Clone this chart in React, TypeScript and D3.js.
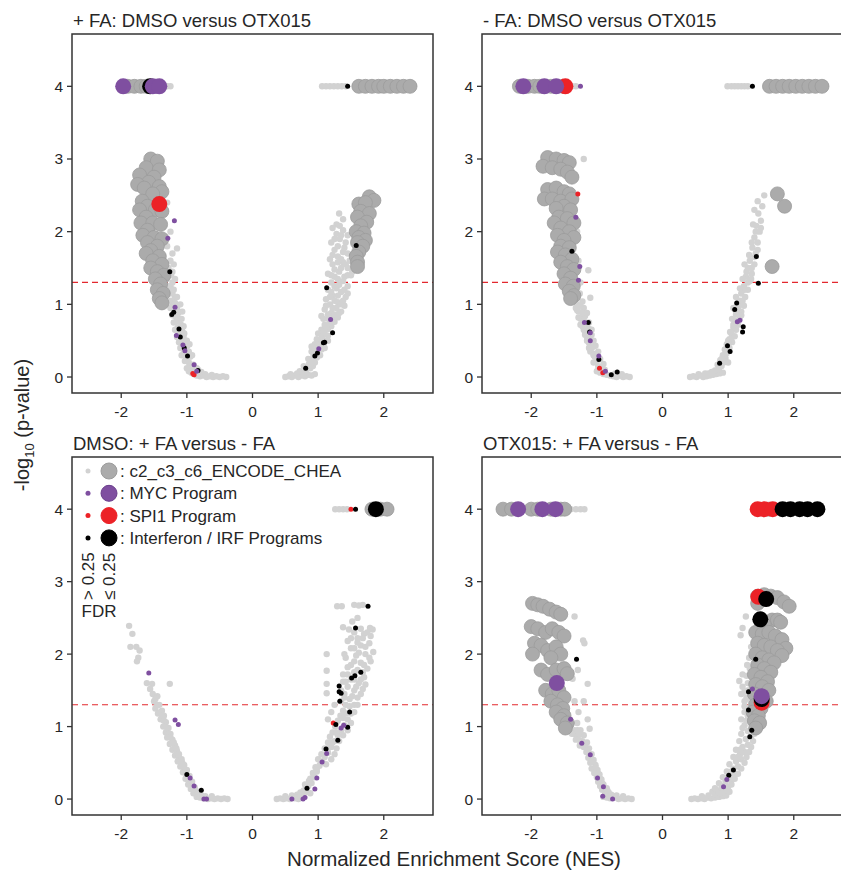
import React from "react";
import * as d3 from "d3";

type P = [number, number][];

// ---------- Panel A: + FA: DMSO versus OTX015 ----------
const aGreyS: P = [
  [-0.4,0],[-0.45,0.01],[-0.5,0],[-0.55,0.01],[-0.6,0],[-0.65,0.01],[-0.7,0],[-0.75,0.02],[-0.8,0.01],[-0.85,0.02],[-0.9,0.04],[-0.62,0.03],[-0.72,0.04],[-0.82,0.05],
  [-0.88,0.08],[-0.92,0.1],[-0.85,0.12],[-0.95,0.14],[-0.9,0.17],[-0.97,0.2],[-0.78,0.07],[-0.83,0.1],
  [-1.0,0.25],[-0.95,0.28],[-1.02,0.32],[-0.97,0.35],[-1.05,0.38],[-1.0,0.42],[-1.07,0.45],[-1.02,0.48],[-0.92,0.3],[-0.96,0.45],
  [-1.1,0.52],[-1.05,0.55],[-1.12,0.6],[-1.07,0.63],[-1.14,0.68],[-1.09,0.72],[-1.16,0.76],[-1.11,0.8],[-1.18,0.84],[-1.13,0.88],[-1.2,0.92],[-1.15,0.96],[-1.05,0.7],[-1.07,0.9],[-1.22,1.0],
  [-1.24,1.05],[-1.18,1.1],[-1.27,1.15],[-1.2,1.2],[-1.28,1.25],[-1.22,1.3],[-1.3,1.35],[-1.24,1.4],[-1.28,1.5],[-1.2,1.55],[-1.25,1.6],[-1.22,1.7],[-1.15,1.77],[-1.3,1.8],[-1.25,2.0],[-1.3,2.4],[-1.4,2.95],
  [-1.35,4],[-1.3,4],[-1.25,4],
  [0.5,0],[0.55,0.01],[0.6,0],[0.65,0.02],[0.7,0],[0.75,0.02],[0.8,0.01],[0.85,0.03],[0.9,0.02],[0.95,0.04],[0.58,0.04],[0.68,0.05],[0.78,0.06],
  [0.82,0.1],[0.88,0.12],[0.92,0.15],[0.86,0.18],[0.95,0.2],[0.9,0.24],[0.98,0.27],[0.93,0.3],
  [1.0,0.33],[0.96,0.37],[1.05,0.38],[1.0,0.42],[1.08,0.45],[1.02,0.5],[1.12,0.5],[1.06,0.55],[1.15,0.57],[1.1,0.6],
  [1.05,0.65],[1.15,0.66],[1.2,0.7],[1.1,0.72],[1.25,0.76],[1.15,0.8],[1.3,0.82],[1.05,0.84],[1.2,0.88],[1.35,0.9],[1.1,0.93],[1.28,0.95],[1.4,0.98],[1.18,1.0],
  [1.3,1.03],[1.12,1.07],[1.42,1.1],[1.22,1.12],[1.35,1.17],[1.15,1.2],[1.28,1.22],[1.45,1.25],[1.2,1.3],[1.38,1.32],[1.25,1.38],[1.5,1.4],[1.15,1.42],[1.32,1.45],[1.45,1.5],
  [1.22,1.55],[1.38,1.58],[1.18,1.62],[1.3,1.66],[1.45,1.7],[1.25,1.75],[1.4,1.78],[1.2,1.85],[1.33,1.9],[1.28,1.97],[1.38,2.02],[1.28,2.1],[1.38,2.17],[1.32,2.25],
  [1.06,4],[1.12,4],[1.18,4],[1.24,4],[1.3,4],[1.36,4],[1.42,4],
];
const aGreyFill: P = [
  [-1.0,0.12],[-0.93,0.06],[-0.97,0.08],[-1.03,0.22],[-1.08,0.3],[-1.1,0.4],[-1.12,0.48],[-1.15,0.55],[-1.18,0.65],[-1.2,0.75],[-1.22,0.85],[-1.25,0.95],[-1.0,0.5],[-1.04,0.6],[-1.08,0.8],[-1.12,0.9],[-1.18,1.02],[-1.1,1.0],[-1.15,1.1],[-1.22,1.15],[-1.25,1.25],[-1.18,1.35],[-1.22,1.45],[-1.27,1.45],[-1.23,1.2],
  [1.0,0.6],[1.08,0.62],[1.12,0.7],[1.18,0.74],[1.22,0.8],[1.08,0.8],[1.15,0.86],[1.25,0.86],[1.32,0.88],[1.12,0.98],[1.22,0.95],[1.34,1.0],[1.25,1.05],[1.38,1.05],[1.18,1.1],[1.3,1.12],[1.45,1.15],[1.2,1.17],[1.4,1.2],[1.32,1.27],[1.25,1.25],[1.4,1.38],[1.3,1.35],[1.45,1.4],[1.2,1.4],[1.35,1.5],[1.25,1.48],[1.42,1.55],[1.3,1.58],[1.35,1.62],[1.22,1.68],[1.38,1.72],[1.3,1.8],[1.42,1.85],[1.25,1.9],[1.35,1.95],[1.22,2.05],[1.33,2.08],[1.45,1.95],[1.48,1.6],[1.52,1.45],[0.9,0.35],[0.95,0.45],[1.05,0.48],[0.98,0.52],[0.9,0.42],[0.85,0.25],[0.78,0.15],[0.72,0.08],[1.03,0.3],[1.1,0.4],[1.15,0.5],
];
const aGreyL: P = [
  [-1.55,3.0],[-1.45,2.97],[-1.62,2.88],[-1.42,2.85],[-1.72,2.78],[-1.5,2.75],[-1.58,2.68],[-1.75,2.65],[-1.65,2.6],[-1.42,2.62],[-1.38,2.55],[-1.52,2.52],[-1.68,2.42],[-1.6,2.35],[-1.72,2.3],[-1.48,2.3],[-1.38,2.28],[-1.62,2.2],[-1.7,2.12],[-1.52,2.12],[-1.4,2.1],[-1.6,2.02],[-1.67,1.95],[-1.5,1.92],[-1.38,1.9],[-1.6,1.85],[-1.45,1.8],[-1.55,1.74],[-1.62,1.7],[-1.42,1.66],[-1.52,1.6],[-1.38,1.55],[-1.55,1.5],[-1.45,1.45],[-1.35,1.4],[-1.48,1.35],[-1.4,1.28],[-1.45,1.2],[-1.36,1.15],[-1.42,1.08],[-1.38,1.02],
  [-1.9,4],[-1.8,4],[-1.7,4],[-1.62,4],[-1.55,4],[-1.45,4],
  [1.78,2.48],[1.85,2.43],[1.62,2.38],[1.72,2.4],[1.65,2.28],[1.78,2.25],[1.6,2.2],[1.74,2.13],[1.65,2.08],[1.58,2.0],[1.7,1.98],[1.62,1.92],[1.72,1.88],[1.6,1.85],[1.68,1.8],[1.62,1.72],[1.58,1.66],[1.6,1.58],[1.6,1.52],
  [1.62,4],[1.72,4],[1.82,4],[1.92,4],[2.0,4],[2.1,4],[2.2,4],[2.3,4],[2.4,4],
];
const aPurS: P = [[-1.19,2.15],[-1.29,1.91],[-1.18,0.96],[-1.16,0.57],[-1.06,0.44],[-1.03,0.36],[-0.89,0.17],[-0.85,0.08],[1.19,0.79],[1.01,0.39]];
const aPurL: P = [[-1.97,4],[-1.52,4],[-1.42,4]];
const aRedS: P = [[-0.91,0.05],[-0.89,0.03]];
const aRedL: P = [[-1.42,2.38]];
const aBlkS: P = [[-1.26,1.45],[-1.2,0.89],[-1.23,0.86],[-1.12,0.66],[-1.1,0.55],[-1.04,0.4],[-0.99,0.29],[-0.83,0.09],[1.58,1.81],[1.13,1.23],[1.22,0.61],[1.08,0.47],[1.1,0.48],[0.99,0.33],[0.95,0.29],[0.81,0.12],[1.45,4]];
const aBlkL: P = [[-1.56,4]];

// ---------- Panel B: - FA: DMSO versus OTX015 ----------
const bGreyS: P = [
  [-0.5,0],[-0.55,0.01],[-0.6,0],[-0.65,0.02],[-0.7,0],[-0.75,0.01],[-0.8,0.02],[-0.85,0.03],[-0.9,0.04],[-0.62,0.04],[-0.72,0.05],[-0.95,0.06],
  [-0.88,0.1],[-0.93,0.12],[-0.98,0.15],[-0.9,0.18],[-1.0,0.22],[-0.95,0.25],[-1.03,0.28],
  [-1.05,0.32],[-0.98,0.35],[-1.08,0.4],[-1.02,0.43],[-1.12,0.47],[-1.05,0.5],[-1.15,0.55],[-1.08,0.58],
  [-1.18,0.62],[-1.12,0.66],[-1.22,0.7],[-1.15,0.73],[-1.25,0.8],[-1.18,0.84],[-1.28,0.9],[-1.2,0.95],[-1.3,1.0],[-1.22,1.04],[-1.1,1.09],[-1.33,1.08],
  [-1.26,1.15],[-1.2,3.0],[-1.13,1.47],[-1.25,1.3],[-1.28,1.6],[-1.3,2.0],
  [-1.38,4],[-1.32,4],
  [0.42,0],[0.47,0.01],[0.52,0],[0.57,0.02],[0.62,0],[0.67,0.01],[0.72,0.02],[0.77,0.03],[0.82,0.04],[0.87,0.05],[0.92,0.06],[0.55,0.04],[0.65,0.05],
  [0.8,0.09],[0.86,0.12],[0.9,0.15],[0.84,0.17],[0.93,0.2],[0.88,0.23],[0.96,0.26],[0.92,0.3],
  [0.98,0.33],[0.95,0.38],[1.02,0.4],[0.98,0.45],[1.06,0.48],[1.02,0.52],[1.1,0.56],[1.05,0.6],[1.12,0.65],[1.08,0.68],
  [1.15,0.72],[1.1,0.78],[1.18,0.82],[1.12,0.86],[1.2,0.9],[1.15,0.95],[1.24,0.98],[1.18,1.05],[1.26,1.1],[1.2,1.15],
  [1.3,1.2],[1.24,1.25],[1.33,1.32],[1.27,1.38],[1.36,1.42],[1.3,1.5],[1.4,1.55],[1.33,1.6],[1.42,1.7],[1.37,1.78],[1.45,1.85],[1.4,1.92],[1.48,2.0],[1.43,2.08],[1.5,2.15],[1.46,2.25],[1.52,2.35],[1.45,2.42],[1.55,2.5],
  [0.99,4],[1.05,4],[1.1,4],[1.15,4],[1.2,4],[1.25,4],[1.3,4],
];
const bGreyFill: P = [
  [-1.0,0.08],[-0.98,0.1],[-1.05,0.2],[-1.0,0.28],[-1.1,0.35],[-1.05,0.42],[-1.12,0.4],[-1.15,0.5],[-1.1,0.52],[-1.18,0.58],[-1.2,0.65],[-1.25,0.72],[-1.2,0.78],[-1.28,0.82],[-1.22,0.88],[-1.3,0.92],[-1.25,0.98],[-1.32,0.95],[-1.15,0.88],[-1.12,0.75],[-1.08,0.65],[-1.05,0.3],
  [1.0,0.5],[1.06,0.55],[1.03,0.62],[1.08,0.72],[1.14,0.75],[1.06,0.8],[1.12,0.9],[1.2,0.85],[1.08,0.95],[1.16,1.0],[1.22,1.05],[1.12,1.1],[1.25,1.2],[1.18,1.22],[1.3,1.3],[1.22,1.35],[1.35,1.35],[1.28,1.45],[1.36,1.5],[1.25,1.55],[1.32,1.68],[1.4,1.65],[1.36,1.85],[1.45,1.75],[1.42,2.0],[1.38,2.1],[1.5,2.05],[1.4,2.3],[0.95,0.3],[0.98,0.4],[0.9,0.25],[0.85,0.1],[0.75,0.07],[0.7,0.05],[1.0,0.2],
];
const bGreyL: P = [
  [-1.75,3.02],[-1.62,3.0],[-1.5,2.98],[-1.42,2.95],[-1.82,2.9],[-1.68,2.88],[-1.55,2.86],[-1.45,2.82],[-1.38,2.75],[-1.75,2.58],[-1.62,2.6],[-1.5,2.55],[-1.42,2.52],[-1.8,2.45],[-1.68,2.45],[-1.55,2.42],[-1.38,2.45],[-1.5,2.35],[-1.62,2.32],[-1.4,2.3],[-1.58,2.2],[-1.45,2.18],[-1.65,2.12],[-1.35,2.12],[-1.55,2.05],[-1.42,2.0],[-1.6,1.95],[-1.35,1.92],[-1.5,1.88],[-1.55,1.8],[-1.42,1.78],[-1.6,1.72],[-1.48,1.68],[-1.38,1.62],[-1.55,1.58],[-1.45,1.52],[-1.35,1.48],[-1.5,1.42],[-1.4,1.36],[-1.48,1.28],[-1.36,1.25],[-1.42,1.18],[-1.35,1.12],[-1.4,1.08],
  [-2.18,4],[-2.05,4],[-1.95,4],[-1.87,4],[-1.7,4],[-1.52,4],
  [1.75,2.52],[1.86,2.35],[1.67,1.52],
  [1.63,4],[1.73,4],[1.83,4],[1.93,4],[2.03,4],[2.13,4],[2.23,4],[2.33,4],[2.43,4],
];
const bPurS: P = [[-1.32,2.2],[-1.26,1.52],[-1.28,1.33],[-1.19,0.75],[-1.1,0.61],[-1.1,0.5],[-0.97,0.29],[-0.87,0.08],[-1.25,4],[1.14,0.76],[1.18,0.78]];
const bPurL: P = [[-2.12,4],[-1.8,4],[-1.62,4]];
const bRedS: P = [[-1.29,2.52],[-0.96,0.12],[-0.91,0.06]];
const bRedL: P = [[-1.48,4]];
const bBlkS: P = [[-1.38,1.73],[-1.13,0.75],[-1.11,0.62],[-0.97,0.24],[-0.78,0.03],[-0.69,0.07],[1.43,1.66],[1.46,1.29],[1.13,1.02],[1.1,0.93],[1.23,0.69],[1.22,0.62],[0.99,0.43],[1.03,0.35],[0.87,0.19],[1.37,4]];
const bBlkL: P = [];

// ---------- Panel C: DMSO: + FA versus - FA ----------
const cGreyS: P = [
  [-1.88,2.39],[-1.83,2.28],[-1.86,2.1],[-1.77,2.1],[-1.72,2.05],[-1.74,1.95],[-1.76,1.9],
  [-1.61,1.6],[-1.53,1.59],[-1.56,1.52],[-1.26,1.59],
  [-1.52,1.45],[-1.45,1.42],[-1.5,1.35],[-1.42,1.3],[-1.48,1.25],[-1.38,1.22],[-1.44,1.18],[-1.35,1.15],
  [-1.4,1.1],[-1.32,1.06],[-1.36,1.0],[-1.28,0.98],[-1.32,0.92],[-1.25,0.9],[-1.3,0.85],[-1.22,0.82],[-1.26,0.76],[-1.18,0.74],[-1.22,0.68],[-1.15,0.66],[-1.18,0.6],[-1.12,0.57],[-1.14,0.52],[-1.07,0.5],[-1.1,0.45],[-1.04,0.42],[-1.06,0.37],[-1.0,0.33],[-1.02,0.28],[-0.96,0.25],[-0.98,0.2],[-0.92,0.18],[-0.94,0.14],[-0.88,0.12],[-0.9,0.08],[-0.84,0.07],[-0.85,0.03],[-0.8,0.02],[-0.75,0.01],[-0.68,0],[-0.63,0.01],[-0.58,0],[-0.53,0.01],[-0.48,0],[-0.43,0.01],[-0.38,0],[-0.72,0.04],[-0.62,0.04],
  [0.37,0],[0.42,0.01],[0.47,0],[0.52,0.01],[0.57,0],[0.65,0.01],[0.7,0],[0.75,0.02],[0.5,0.04],[0.6,0.05],[0.68,0.06],
  [0.73,0.09],[0.78,0.12],[0.82,0.1],[0.85,0.18],[0.8,0.2],[0.9,0.22],[0.88,0.28],[0.94,0.3],[0.92,0.36],[0.98,0.38],[0.96,0.44],[1.02,0.46],[1.06,0.52],[1.0,0.55],[1.1,0.58],[1.05,0.62],[1.15,0.64],[1.1,0.7],[1.2,0.72],[1.15,0.78],[1.25,0.8],[1.18,0.86],[1.3,0.88],[1.22,0.92],[1.35,0.95],[1.26,1.0],[1.4,1.02],[1.3,1.08],[1.45,1.1],[1.34,1.15],[1.5,1.18],[1.38,1.22],[1.42,1.3],[1.55,1.3],[1.35,1.35],[1.48,1.38],[1.6,1.4],[1.4,1.45],[1.55,1.5],[1.68,1.52],[1.45,1.55],[1.62,1.6],[1.38,1.62],[1.5,1.65],[1.7,1.68],[1.45,1.72],[1.6,1.78],[1.75,1.8],[1.5,1.85],[1.65,1.88],[1.8,1.9],[1.42,1.95],[1.58,1.98],[1.72,2.0],[1.84,2.03],[1.5,2.08],[1.65,2.12],[1.78,2.15],[1.45,2.18],[1.6,2.22],[1.7,2.28],[1.38,2.37],[1.47,2.34],[1.79,2.36],[1.83,2.34],[1.29,2.66],[1.36,2.66],[1.55,2.68],[1.62,2.67],[1.68,2.68],[1.13,2.0],[1.13,1.77],[1.13,1.59],[1.13,1.46],[1.25,1.3],[1.2,1.2],[1.15,1.1],
  [1.26,4],[1.32,4],[1.38,4],[1.44,4],
];
const cGreyFill: P = [
  [-1.48,1.38],[-1.4,1.2],[-1.35,1.08],[-1.3,0.98],[-1.25,0.85],[-1.2,0.78],[-1.16,0.7],[-1.12,0.62],[-1.08,0.55],[-1.04,0.47],[-1.0,0.4],[-0.96,0.32],[-0.92,0.24],[-0.88,0.16],[-0.82,0.1],[-0.78,0.05],[-1.45,1.3],[-1.38,1.15],
  [1.04,0.5],[1.12,0.48],[1.2,0.55],[1.25,0.62],[1.15,0.7],[1.28,0.7],[1.22,0.78],[1.32,0.8],[1.38,0.88],[1.28,0.92],[1.45,0.95],[1.38,1.12],[1.5,1.05],[1.42,1.18],[1.55,1.2],[1.48,1.28],[1.6,1.3],[1.4,1.4],[1.52,1.42],[1.65,1.45],[1.35,1.5],[1.58,1.55],[1.72,1.58],[1.42,1.62],[1.55,1.65],[1.65,1.65],[1.38,1.72],[1.55,1.75],[1.68,1.75],[1.45,1.82],[1.7,1.85],[1.55,1.9],[1.78,1.95],[1.4,2.0],[1.62,2.02],[1.55,2.08],[1.72,2.1],[1.6,2.16],[1.5,2.22],[1.68,2.22],[1.8,2.25],[1.55,2.3],[1.65,2.35],[1.75,2.3],[1.52,2.45],[1.6,2.5],[0.98,0.42],[0.93,0.32],[0.86,0.25],[0.82,0.15],[0.88,0.08],[0.76,0.05],[0.68,0.02],[0.62,0.02],
];
const cGreyL: P = [[1.82,4],[1.95,4],[2.05,4]];
const cPurS: P = [[-1.58,1.74],[-1.18,1.09],[-1.13,1.03],[-0.95,0.29],[-0.89,0.18],[-0.74,0],[-0.7,0],[0.6,0],[0.77,0],[0.8,0.02],[0.95,0.14],[0.98,0.29],[1.06,0.51],[1.13,0.63],[1.35,0.98],[1.39,1.02]];
const cPurL: P = [];
const cRedS: P = [[1.23,1.05],[1.5,4]];
const cRedL: P = [];
const cBlkS: P = [[-1.0,0.34],[-0.78,0.12],[0.83,0.15],[1.12,0.69],[1.3,0.81],[1.27,1.03],[1.45,0.99],[1.48,1.2],[1.33,1.35],[1.32,1.48],[1.35,1.46],[1.32,1.56],[1.51,1.67],[1.56,1.7],[1.65,1.75],[1.57,2.36],[1.76,2.66],[1.57,4]];
const cBlkL: P = [[1.88,4]];

// ---------- Panel D: OTX015: + FA versus - FA ----------
const dGreyS: P = [
  [-0.47,0],[-0.52,0.01],[-0.57,0],[-0.62,0.01],[-0.67,0],[-0.72,0.02],[-0.8,0.01],[-0.85,0.02],[-0.9,0.03],[-0.6,0.04],[-0.7,0.05],[-0.78,0.06],
  [-0.82,0.09],[-0.88,0.1],[-0.92,0.13],[-0.85,0.15],[-0.95,0.18],[-0.9,0.2],[-0.98,0.24],[-0.93,0.27],[-1.0,0.3],[-0.96,0.34],[-1.04,0.36],[-0.99,0.4],[-1.08,0.42],[-1.02,0.47],[-1.1,0.5],[-1.05,0.54],[-1.13,0.57],[-1.08,0.62],[-1.16,0.65],[-1.12,0.7],[-1.2,0.72],[-1.15,0.78],[-1.25,0.8],[-1.3,0.86],[-1.2,0.88],[-1.35,0.9],[-1.25,0.95],
  [-1.34,2.52],[-1.21,2.19],[-1.19,2.15],[-1.29,1.78],[-1.37,1.66],[-1.14,1.59],[-1.34,1.35],[-1.2,1.35],[-1.14,1.1],[-1.11,0.97],[-1.28,1.2],[-1.3,1.05],
  [-1.4,4],[-1.32,4],[-1.25,4],[-1.19,4],
  [0.44,0],[0.49,0.01],[0.54,0],[0.59,0.01],[0.64,0],[0.69,0.02],[0.74,0.01],[0.8,0.02],[0.86,0.03],[0.92,0.04],[0.97,0.05],[0.6,0.04],[0.7,0.05],[0.8,0.07],
  [0.76,0.1],[0.85,0.12],[0.92,0.1],[0.8,0.15],[0.9,0.18],[1.0,0.17],[0.86,0.22],[0.96,0.24],[1.05,0.26],[0.92,0.3],[1.02,0.32],[1.1,0.35],[0.98,0.38],[1.08,0.42],[1.15,0.45],[1.02,0.48],[1.12,0.52],[1.2,0.55],[1.08,0.58],[1.18,0.62],[1.25,0.65],[1.12,0.68],[1.22,0.72],[1.3,0.75],[1.17,0.8],[1.27,0.83],[1.35,0.86],[1.2,0.9],[1.3,0.94],[1.38,0.97],[1.25,1.02],[1.35,1.06],[1.2,1.1],[1.3,1.15],[1.38,1.2],[1.25,1.28],[1.35,1.32],
  [1.27,2.52],[1.22,2.36],[1.19,2.26],[1.29,1.85],[1.22,1.72],[1.17,1.63],[1.22,1.55],[1.2,1.45],[1.28,1.4],[1.3,1.6],[1.32,1.95],[1.35,2.1],
];
const dGreyFill: P = [
  [-1.35,0.95],[-1.3,0.95],[-1.28,0.88],[-1.22,0.8],[-1.18,0.75],[-1.14,0.66],[-1.1,0.6],[-1.06,0.52],[-1.02,0.44],[-0.98,0.35],[-0.95,0.28],[-0.92,0.22],[-0.88,0.15],[-0.84,0.12],[-1.4,1.0],[-1.38,0.9],[-1.32,0.82],[-1.26,0.74],
  [1.05,0.2],[1.1,0.28],[1.15,0.35],[1.2,0.42],[1.25,0.5],[1.28,0.58],[1.32,0.65],[1.35,0.72],[1.38,0.8],[1.4,0.9],[1.22,0.98],[1.28,1.08],[1.33,1.12],[1.25,1.2],[1.3,1.25],[1.32,1.38],[1.25,1.35],[1.25,1.48],[1.3,1.5],[1.28,1.7],[1.33,1.8],[0.95,0.12],[1.02,0.1],[0.88,0.08],[1.05,0.38],[1.0,0.3],[1.18,0.68],[1.15,0.58],
];
const dGreyL: P = [
  [-1.98,2.7],[-1.9,2.68],[-1.82,2.66],[-1.72,2.62],[-1.62,2.58],[-1.55,2.55],
  [-2.0,2.38],[-1.9,2.35],[-1.78,2.3],[-1.68,2.35],[-1.58,2.3],[-1.5,2.25],
  [-1.95,2.15],[-1.85,2.12],[-1.75,2.05],[-1.62,2.1],[-1.55,2.0],[-1.98,2.0],[-1.7,1.95],
  [-1.85,1.78],[-1.75,1.72],[-1.62,1.78],[-1.5,1.8],[-1.45,1.73],
  [-1.78,1.5],[-1.68,1.45],[-1.58,1.5],[-1.5,1.4],[-1.7,1.35],[-1.6,1.3],[-1.52,1.25],[-1.62,1.2],[-1.5,1.15],[-1.55,1.1],[-1.45,1.05],[-1.48,0.98],
  [-2.43,4],[-2.3,4],[-2.0,4],[-1.9,4],[-1.7,4],[-1.55,4],[-1.49,4],
  [1.45,2.8],[1.55,2.82],[1.65,2.8],[1.75,2.78],[1.85,2.72],[1.93,2.66],[1.45,2.7],
  [1.67,2.47],[1.75,2.47],[1.8,2.44],[1.55,2.4],
  [1.42,2.3],[1.52,2.28],[1.62,2.3],[1.72,2.25],[1.82,2.2],[1.88,2.08],[1.45,2.15],[1.55,2.12],[1.65,2.1],[1.75,2.05],[1.82,1.98],
  [1.42,2.0],[1.52,1.95],[1.62,1.92],[1.7,1.88],[1.45,1.85],[1.55,1.8],[1.65,1.75],[1.4,1.72],[1.5,1.68],[1.6,1.62],[1.42,1.58],[1.52,1.55],[1.62,1.5],[1.4,1.45],[1.5,1.4],[1.58,1.35],[1.42,1.3],[1.5,1.25],[1.38,1.2],[1.46,1.15],[1.4,1.08],[1.48,1.05],[1.42,0.98],
  [1.62,4],
];
const dPurS: P = [[-1.4,1.1],[-1.23,0.77],[-1.1,0.61],[-0.99,0.29],[-0.9,0.17],[-0.91,0.04],[-0.76,0],[1.37,1.52],[0.98,0.27],[0.93,0.17]];
const dPurL: P = [[-2.2,4],[-1.83,4],[-1.63,4],[-1.61,1.6],[1.51,1.42]];
const dRedS: P = [];
const dRedL: P = [[1.46,2.79],[1.51,1.33],[1.45,4],[1.55,4],[1.68,4]];
const dBlkS: P = [[-1.31,1.93],[1.42,1.93],[1.31,1.48],[1.31,1.23],[1.36,0.95],[1.33,0.86],[1.08,0.4],[1.01,0.33]];
const dBlkL: P = [[1.58,2.76],[1.49,2.48],[1.51,1.38],[1.83,4],[1.95,4],[2.09,4],[2.21,4],[2.36,4]];

// ---------- axes / labels ----------
const panelTitles = ["+ FA: DMSO versus OTX015", "- FA: DMSO versus OTX015", "DMSO: + FA versus - FA", "OTX015: + FA versus - FA"];
const xTicks = [-2, -1, 0, 1, 2];
const yTicks = [0, 1, 2, 3, 4];
const legendLabels = ["c2_c3_c6_ENCODE_CHEA", "MYC Program", "SPI1 Program", "Interferon / IRF Programs"];
const fdrLabels = ["> 0.25", "\u2264 0.25"];
const pCut = 0.05;

const C_GREY_S = "#d2d2d2";
const C_GREY_L = "#ababab";
const C_GREY_LS = "#9c9c9c";
const C_PUR = "#7f4fa0";
const C_RED = "#ec2227";
const C_BLK = "#000000";
const TXT = "#262626";
const FONT = "Liberation Sans, Arial, sans-serif";

interface PanelData {
  greyS: P; greyL: P; purS: P; purL: P; redS: P; redL: P; blkS: P; blkL: P;
}

const panels: PanelData[] = [
  { greyS: [...aGreyS, ...aGreyFill], greyL: aGreyL, purS: aPurS, purL: aPurL, redS: aRedS, redL: aRedL, blkS: aBlkS, blkL: aBlkL },
  { greyS: [...bGreyS, ...bGreyFill], greyL: bGreyL, purS: bPurS, purL: bPurL, redS: bRedS, redL: bRedL, blkS: bBlkS, blkL: bBlkL },
  { greyS: [...cGreyS, ...cGreyFill], greyL: cGreyL, purS: cPurS, purL: cPurL, redS: cRedS, redL: cRedL, blkS: cBlkS, blkL: cBlkL },
  { greyS: [...dGreyS, ...dGreyFill], greyL: dGreyL, purS: dPurS, purL: dPurL, redS: dRedS, redL: dRedL, blkS: dBlkS, blkL: dBlkL },
];

const boxes = [
  { x0: 72, x1: 433, y0: 34, y1: 393 },
  { x0: 482, x1: 843, y0: 34, y1: 393 },
  { x0: 72, x1: 433, y0: 457, y1: 815 },
  { x0: 482, x1: 843, y0: 457, y1: 815 },
];

function Panel({ data, box, title, idx }: { data: PanelData; box: typeof boxes[0]; title: string; idx: number }) {
  const x = d3.scaleLinear().domain([-2.75, 2.75]).range([box.x0, box.x1]);
  const y = d3.scaleLinear().domain([-0.22, 4.72]).range([box.y1, box.y0]);
  const dots = (pts: P, r: number, fill: string, stroke: string | null, key: string) =>
    pts.map((p, i) => (
      <circle key={key + i} cx={x(p[0])} cy={y(p[1])} r={r} fill={fill}
        stroke={stroke ?? "none"} strokeWidth={stroke ? 0.8 : 0} />
    ));
  const cut = -Math.log10(pCut);
  return (
    <g>
      <text x={box.x0 + 1} y={box.y0 - 7} fontSize={18.5} fill={TXT} fontFamily={FONT}>{title}</text>
      <defs>
        <clipPath id={"clip" + idx}>
          <rect x={box.x0} y={box.y0} width={box.x1 - box.x0} height={box.y1 - box.y0} />
        </clipPath>
      </defs>
      <g clipPath={`url(#clip${idx})`}>
        <line x1={box.x0} x2={box.x1} y1={y(cut)} y2={y(cut)} stroke="#e3282e" strokeWidth={1.2} strokeDasharray="6,4" />
        {dots(data.greyS, 3.2, C_GREY_S, null, "gs")}
        {dots(data.greyL, 7, C_GREY_L, C_GREY_LS, "gl")}
        {dots(data.redS, 2.5, C_RED, null, "rs")}
        {dots(data.blkS, 2.5, C_BLK, null, "bs")}
        {dots(data.purS, 2.5, C_PUR, null, "ps")}
        {dots(data.redL, 8, C_RED, null, "rl")}
        {dots(data.blkL, 8, C_BLK, null, "bl")}
        {dots(data.purL, 8, C_PUR, null, "pl")}
      </g>
      <rect x={box.x0} y={box.y0} width={box.x1 - box.x0} height={box.y1 - box.y0} fill="none" stroke="#333" strokeWidth={1.5} />
      {xTicks.map((t) => (
        <g key={"xt" + t}>
          <line x1={x(t)} x2={x(t)} y1={box.y1} y2={box.y1 + 5} stroke="#333" strokeWidth={1.3} />
          <text x={x(t)} y={box.y1 + 24} fontSize={15.5} fill={TXT} textAnchor="middle" fontFamily={FONT}>{t}</text>
        </g>
      ))}
      {yTicks.map((t) => (
        <g key={"yt" + t}>
          <line x1={box.x0 - 5} x2={box.x0} y1={y(t)} y2={y(t)} stroke="#333" strokeWidth={1.3} />
          <text x={box.x0 - 9} y={y(t) + 5.5} fontSize={15.5} fill={TXT} textAnchor="end" fontFamily={FONT}>{t}</text>
        </g>
      ))}
    </g>
  );
}

function Legend() {
  const colors = [C_GREY_S, C_PUR, C_RED, C_BLK];
  const lcolors = [C_GREY_L, C_PUR, C_RED, C_BLK];
  const lstroke = [C_GREY_LS, "#6a3d8c", C_RED, C_BLK];
  const x0 = 88, x1 = 109, y0 = 471, dy = 22.3;
  return (
    <g fontFamily={FONT} fill={TXT}>
      {legendLabels.map((l, i) => (
        <g key={l}>
          <circle cx={x0} cy={y0 + i * dy} r={2.5} fill={colors[i]} />
          <circle cx={x1} cy={y0 + i * dy} r={8} fill={lcolors[i]} stroke={lstroke[i]} strokeWidth={1} />
          <text x={120} y={y0 + i * dy + 6} fontSize={17}>{": " + l}</text>
        </g>
      ))}
      {fdrLabels.map((l, i) => (
        <text key={l} transform={`translate(${[x0 + 6, x1 + 6][i]},${600}) rotate(-90)`} fontSize={17}>{l}</text>
      ))}
      <text x={99} y={617} fontSize={17} textAnchor="middle">FDR</text>
    </g>
  );
}

export default function App() {
  return (
    <svg width={841} height={871} style={{ position: "absolute", left: 0, top: 0, background: "#fff" }}>
      <rect x={0} y={0} width={841} height={871} fill="#fff" />
      {panels.map((p, i) => (
        <Panel key={i} data={p} box={boxes[i]} title={panelTitles[i]} idx={i} />
      ))}
      <Legend />
      <text transform="translate(29,425) rotate(-90)" fontSize={20} fill={TXT} textAnchor="middle" fontFamily={FONT}>
        -log<tspan fontSize={13} dy={5}>10</tspan><tspan dy={-5}> (p-value)</tspan>
      </text>
      <text x={454} y={866} fontSize={20.5} fill={TXT} textAnchor="middle" fontFamily={FONT}>Normalized Enrichment Score (NES)</text>
    </svg>
  );
}
